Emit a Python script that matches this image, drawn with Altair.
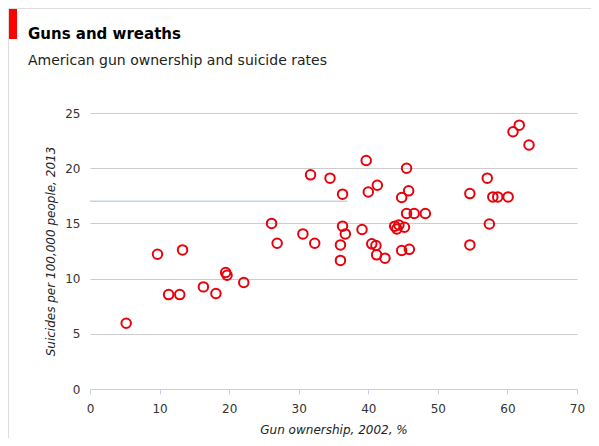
import altair as alt
import pandas as pd

gun_ownership = [5.2, 9.7, 13.3, 11.3, 12.9, 16.3, 18.1, 19.5, 19.7, 22.1,
                 26.1, 26.9, 30.6, 32.3, 31.7, 34.5,
                 36.3, 36.3, 36.7, 36.0, 36.0, 39.7, 40.0, 41.3, 39.1, 40.5,
                 41.1, 41.2, 42.4, 45.5, 45.8, 44.8, 45.5, 46.6, 48.2, 43.8,
                 44.4, 44.1, 45.2, 44.8, 45.9, 54.6, 54.6, 57.1, 57.4, 57.9,
                 58.6, 60.1, 60.8, 61.7, 63.1]
suicide_rate = [5.95, 12.2, 12.6, 8.55, 8.55, 9.25, 8.65, 10.55, 10.3, 9.65,
                15.0, 13.2, 14.05, 13.2, 19.4, 19.1,
                17.65, 14.75, 14.05, 13.05, 11.65, 20.7, 17.85, 18.45, 14.45, 13.15,
                13.0, 12.15, 11.85, 20.0, 17.95, 17.35, 15.9, 15.9, 15.9, 14.75,
                14.85, 14.5, 14.65, 12.55, 12.65, 17.7, 13.05, 19.1, 14.95, 17.4,
                17.4, 17.4, 23.3, 23.9, 22.1]

ref_y = [17.0]
ref_x_start = [0]
ref_x_end = [37]

points = pd.DataFrame({"gun": gun_ownership, "suicide": suicide_rate})
ref = pd.DataFrame({"y": ref_y, "x": ref_x_start, "x2": ref_x_end})

FONT = "DejaVu Sans"

xscale = alt.Scale(domain=[0, 70], nice=False)
yscale = alt.Scale(domain=[0, 25], nice=False)

pts = alt.Chart(points).mark_point(
    shape="circle", filled=False, color="#e8000b", strokeWidth=2, size=90, opacity=1
).encode(
    x=alt.X("gun:Q", scale=xscale,
            axis=alt.Axis(title="Gun ownership, 2002, %", values=list(range(0, 71, 10)),
                          grid=False, domainColor="#c4d3e3", tickColor="#c4d3e3",
                          tickSize=5, labelPadding=9, titlePadding=10, labelFlush=False,
                          titleFontStyle="italic", titleFontWeight="normal")),
    y=alt.Y("suicide:Q", scale=yscale,
            axis=alt.Axis(title="Suicides per 100,000 people, 2013", values=list(range(0, 26, 5)),
                          domain=False, ticks=False, gridColor="#cccccc", labelPadding=10,
                          titlePadding=7, titleFontStyle="italic", titleFontWeight="normal")),
)

refline = alt.Chart(ref).mark_rule(color="#c2d5e8", strokeWidth=1.5).encode(
    x=alt.X("x:Q", scale=xscale),
    x2="x2:Q",
    y=alt.Y("y:Q", scale=yscale),
)

border = alt.Chart(pd.DataFrame({"k": [0]})).mark_rect(
    fill=None, stroke="#dddddd", strokeWidth=1
).encode(
    x=alt.value(-81.5), x2=alt.value(505), y=alt.value(-104.5), y2=alt.value(400)
)

redbar = alt.Chart(pd.DataFrame({"k": [0]})).mark_rect(color="#ff0000").encode(
    x=alt.value(-81), x2=alt.value(-73), y=alt.value(-104), y2=alt.value(-74)
)

chart = alt.layer(border, redbar, refline, pts).properties(
    width=487,
    height=276,
    autosize=alt.AutoSizeParams(type="none"),
    padding={"left": 82, "top": 105, "right": 14, "bottom": 49},
    title=alt.Title(
        text="Guns and wreaths",
        subtitle="American gun ownership and suicide rates",
        anchor="start",
        frame="group",
        dx=-62,
        offset=-60,
        fontSize=15,
        fontWeight="bold",
        font=FONT,
        color="#000000",
        subtitleFontSize=14,
        subtitleFont=FONT,
        subtitleColor="#222222",
        subtitlePadding=12,
    ),
).configure_view(stroke=None).configure_axis(
    labelFont=FONT, titleFont=FONT, labelFontSize=12, titleFontSize=12,
    labelColor="#333333", titleColor="#222222"
)

chart.save("out.html", embed_options={"renderer": "svg", "actions": False})
